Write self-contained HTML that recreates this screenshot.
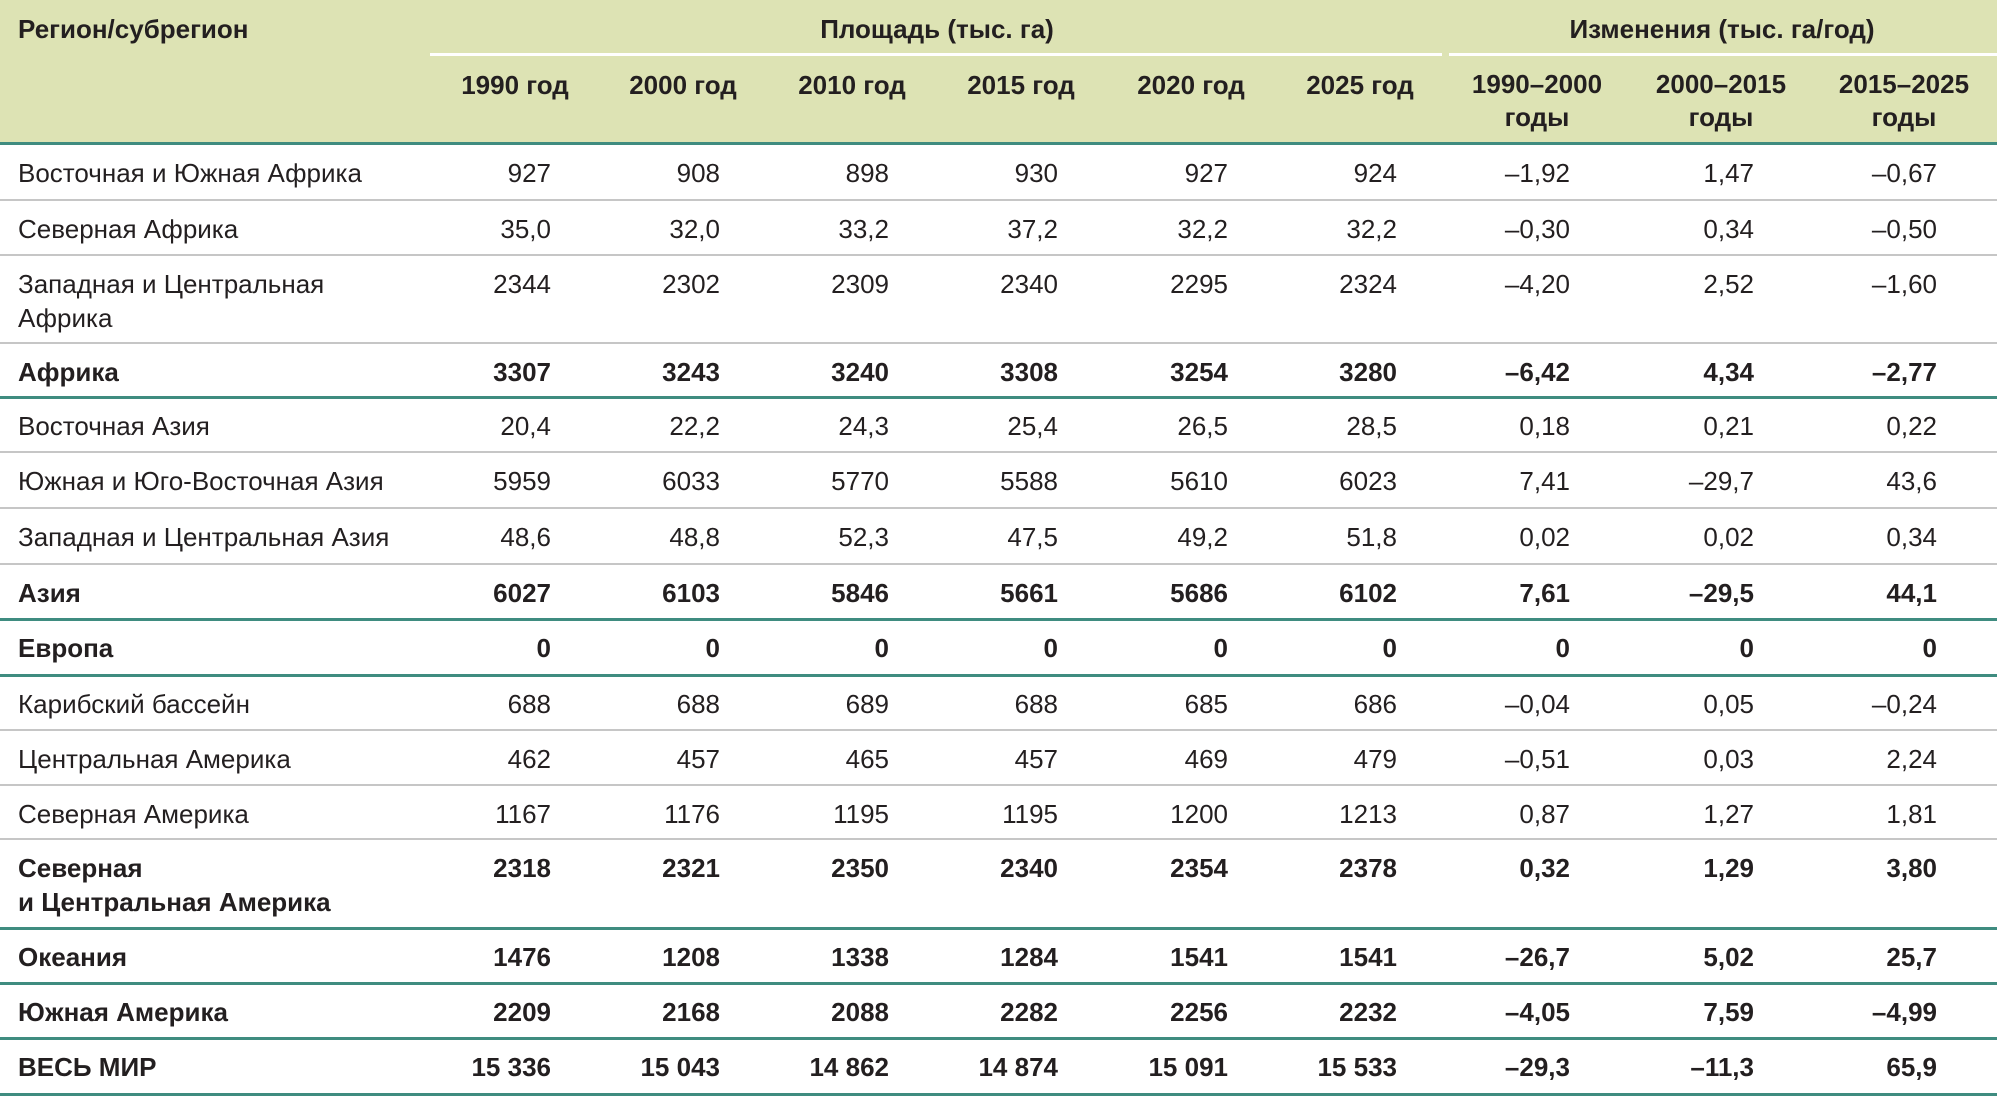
<!DOCTYPE html>
<html><head><meta charset="utf-8">
<style>
body{margin:0;width:1997px;height:1097px;background:#fff;position:relative;overflow:hidden;font-family:"Liberation Sans Narrow","Liberation Sans",sans-serif;color:#231f20;}
.t{position:absolute;white-space:nowrap;font-size:26px;line-height:34px;}
.b{font-weight:bold;}
.r{text-align:right;}
.c{text-align:center;}
.ln{position:absolute;left:0;width:1997px;}
</style></head><body>
<div style="position:absolute;left:0;top:0;width:1997px;height:143px;background:#dde3b4;"></div>
<div style="position:absolute;left:430px;top:53px;width:1012px;height:3px;background:#fff;"></div>
<div style="position:absolute;left:1449px;top:53px;width:548px;height:3px;background:#fff;"></div>
<div class="t b" style="left:18px;top:12px;">Регион/субрегион</div>
<div class="t b c" style="left:737px;width:400px;top:12px;">Площадь (тыс. га)</div>
<div class="t b c" style="left:1522px;width:400px;top:12px;">Изменения (тыс. га/год)</div>
<div id="root"></div>
<script>
var root=document.getElementById('root');
function add(h){root.insertAdjacentHTML('beforeend',h);}
var hc=[515,683,852,1021,1191,1360];
var yl=['1990 год','2000 год','2010 год','2015 год','2020 год','2025 год'];
for(var i=0;i<6;i++)add('<div class="t b c" style="left:'+(hc[i]-100)+'px;width:200px;top:68px">'+yl[i]+'</div>');
var cc=[1537,1721,1904],cl=['1990–2000','2000–2015','2015–2025'];
for(var i=0;i<3;i++)add('<div class="t b c" style="left:'+(cc[i]-100)+'px;width:200px;top:68px;line-height:33px">'+cl[i]+'<br>годы</div>');
var rights=[551,720,889,1058,1228,1397,1570,1754,1937];
var rows=[
[144,200,0,0,'Восточная и Южная Африка',['927','908','898','930','927','924','–1,92','1,47','–0,67']],
[200,255,0,0,'Северная Африка',['35,0','32,0','33,2','37,2','32,2','32,2','–0,30','0,34','–0,50']],
[255,343,0,0,'Западная и Центральная<br>Африка',['2344','2302','2309','2340','2295','2324','–4,20','2,52','–1,60']],
[343,397,1,1,'Африка',['3307','3243','3240','3308','3254','3280','–6,42','4,34','–2,77']],
[397,452,0,0,'Восточная Азия',['20,4','22,2','24,3','25,4','26,5','28,5','0,18','0,21','0,22']],
[452,508,0,0,'Южная и Юго-Восточная Азия',['5959','6033','5770','5588','5610','6023','7,41','–29,7','43,6']],
[508,564,0,0,'Западная и Центральная Азия',['48,6','48,8','52,3','47,5','49,2','51,8','0,02','0,02','0,34']],
[564,619,1,1,'Азия',['6027','6103','5846','5661','5686','6102','7,61','–29,5','44,1']],
[619,675,1,1,'Европа',['0','0','0','0','0','0','0','0','0']],
[675,730,0,0,'Карибский бассейн',['688','688','689','688','685','686','–0,04','0,05','–0,24']],
[730,785,0,0,'Центральная Америка',['462','457','465','457','469','479','–0,51','0,03','2,24']],
[785,839,0,0,'Северная Америка',['1167','1176','1195','1195','1200','1213','0,87','1,27','1,81']],
[839,928,1,1,'Северная<br>и Центральная Америка',['2318','2321','2350','2340','2354','2378','0,32','1,29','3,80']],
[928,983,1,1,'Океания',['1476','1208','1338','1284','1541','1541','–26,7','5,02','25,7']],
[983,1038,1,1,'Южная Америка',['2209','2168','2088','2282','2256','2232','–4,05','7,59','–4,99']],
[1038,1094,1,1,'ВЕСЬ МИР',['15 336','15 043','14 862','14 874','15 091','15 533','–29,3','–11,3','65,9']]
];
add('<div class="ln" style="top:142px;height:3px;background:#3f8c80"></div>');
rows.forEach(function(r){
 var top=r[0]+12,cls='t'+(r[2]?' b':'');
 add('<div class="'+cls+'" style="left:18px;top:'+top+'px">'+r[4]+'</div>');
 r[5].forEach(function(v,i){add('<div class="'+cls+' r" style="left:'+(rights[i]-200)+'px;width:200px;top:'+top+'px">'+v+'</div>');});
 if(r[3])add('<div class="ln" style="top:'+(r[1]-1)+'px;height:3px;background:#3f8c80"></div>');
 else add('<div class="ln" style="top:'+(r[1]-1)+'px;height:2px;background:#c6c6c6"></div>');
});
</script>
</body></html>
